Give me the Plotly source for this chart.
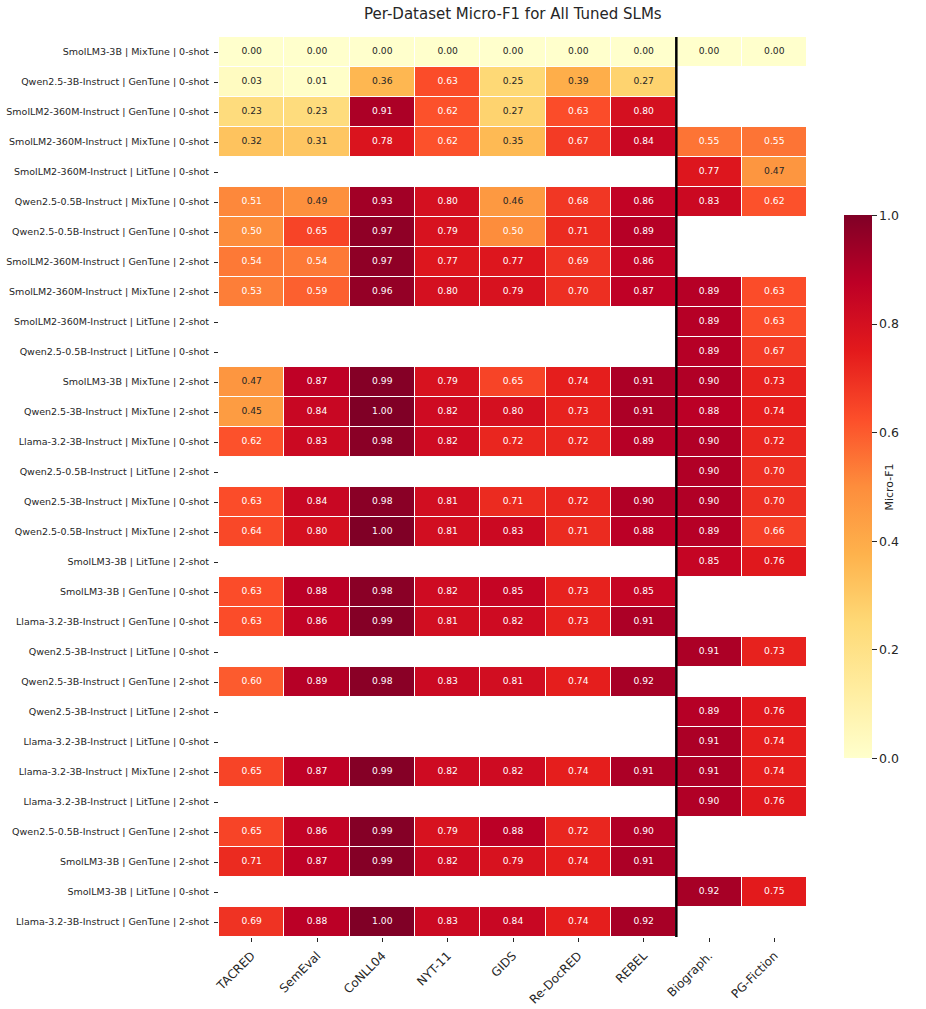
import plotly.graph_objects as go

rows = [
    "SmolLM3-3B | MixTune | 0-shot",
    "Qwen2.5-3B-Instruct | GenTune | 0-shot",
    "SmolLM2-360M-Instruct | GenTune | 0-shot",
    "SmolLM2-360M-Instruct | MixTune | 0-shot",
    "SmolLM2-360M-Instruct | LitTune | 0-shot",
    "Qwen2.5-0.5B-Instruct | MixTune | 0-shot",
    "Qwen2.5-0.5B-Instruct | GenTune | 0-shot",
    "SmolLM2-360M-Instruct | GenTune | 2-shot",
    "SmolLM2-360M-Instruct | MixTune | 2-shot",
    "SmolLM2-360M-Instruct | LitTune | 2-shot",
    "Qwen2.5-0.5B-Instruct | LitTune | 0-shot",
    "SmolLM3-3B | MixTune | 2-shot",
    "Qwen2.5-3B-Instruct | MixTune | 2-shot",
    "Llama-3.2-3B-Instruct | MixTune | 0-shot",
    "Qwen2.5-0.5B-Instruct | LitTune | 2-shot",
    "Qwen2.5-3B-Instruct | MixTune | 0-shot",
    "Qwen2.5-0.5B-Instruct | MixTune | 2-shot",
    "SmolLM3-3B | LitTune | 2-shot",
    "SmolLM3-3B | GenTune | 0-shot",
    "Llama-3.2-3B-Instruct | GenTune | 0-shot",
    "Qwen2.5-3B-Instruct | LitTune | 0-shot",
    "Qwen2.5-3B-Instruct | GenTune | 2-shot",
    "Qwen2.5-3B-Instruct | LitTune | 2-shot",
    "Llama-3.2-3B-Instruct | LitTune | 0-shot",
    "Llama-3.2-3B-Instruct | MixTune | 2-shot",
    "Llama-3.2-3B-Instruct | LitTune | 2-shot",
    "Qwen2.5-0.5B-Instruct | GenTune | 2-shot",
    "SmolLM3-3B | GenTune | 2-shot",
    "SmolLM3-3B | LitTune | 0-shot",
    "Llama-3.2-3B-Instruct | GenTune | 2-shot",
]

datasets = ["TACRED", "SemEval", "CoNLL04", "NYT-11", "GIDS", "Re-DocRED", "REBEL", "Biograph.", "PG-Fiction"]

N = None
tacred =    [0.00, 0.03, 0.23, 0.32, N, 0.51, 0.50, 0.54, 0.53, N, N, 0.47, 0.45, 0.62, N, 0.63, 0.64, N, 0.63, 0.63, N, 0.60, N, N, 0.65, N, 0.65, 0.71, N, 0.69]
semeval =   [0.00, 0.01, 0.23, 0.31, N, 0.49, 0.65, 0.54, 0.59, N, N, 0.87, 0.84, 0.83, N, 0.84, 0.80, N, 0.88, 0.86, N, 0.89, N, N, 0.87, N, 0.86, 0.87, N, 0.88]
conll04 =   [0.00, 0.36, 0.91, 0.78, N, 0.93, 0.97, 0.97, 0.96, N, N, 0.99, 1.00, 0.98, N, 0.98, 1.00, N, 0.98, 0.99, N, 0.98, N, N, 0.99, N, 0.99, 0.99, N, 1.00]
nyt11 =     [0.00, 0.63, 0.62, 0.62, N, 0.80, 0.79, 0.77, 0.80, N, N, 0.79, 0.82, 0.82, N, 0.81, 0.81, N, 0.82, 0.81, N, 0.83, N, N, 0.82, N, 0.79, 0.82, N, 0.83]
gids =      [0.00, 0.25, 0.27, 0.35, N, 0.46, 0.50, 0.77, 0.79, N, N, 0.65, 0.80, 0.72, N, 0.71, 0.83, N, 0.85, 0.82, N, 0.81, N, N, 0.82, N, 0.88, 0.79, N, 0.84]
redocred =  [0.00, 0.39, 0.63, 0.67, N, 0.68, 0.71, 0.69, 0.70, N, N, 0.74, 0.73, 0.72, N, 0.72, 0.71, N, 0.73, 0.73, N, 0.74, N, N, 0.74, N, 0.72, 0.74, N, 0.74]
rebel =     [0.00, 0.27, 0.80, 0.84, N, 0.86, 0.89, 0.86, 0.87, N, N, 0.91, 0.91, 0.89, N, 0.90, 0.88, N, 0.85, 0.91, N, 0.92, N, N, 0.91, N, 0.90, 0.91, N, 0.92]
biograph =  [0.00, N, N, 0.55, 0.77, 0.83, N, N, 0.89, 0.89, 0.89, 0.90, 0.88, 0.90, 0.90, 0.90, 0.89, 0.85, N, N, 0.91, N, 0.89, 0.91, 0.91, 0.90, N, N, 0.92, N]
pgfiction = [0.00, N, N, 0.55, 0.47, 0.62, N, N, 0.63, 0.63, 0.67, 0.73, 0.74, 0.72, 0.70, 0.70, 0.66, 0.76, N, N, 0.73, N, 0.76, 0.74, 0.74, 0.76, N, N, 0.75, N]

columns = [tacred, semeval, conll04, nyt11, gids, redocred, rebel, biograph, pgfiction]
z = [[col[i] for col in columns] for i in range(len(rows))]

ylorrd = [
    [0.0, "#ffffcc"], [0.125, "#ffeda0"], [0.25, "#fed976"], [0.375, "#feb24c"],
    [0.5, "#fd8d3c"], [0.625, "#fc4e2a"], [0.75, "#e31a1c"], [0.875, "#bd0026"],
    [1.0, "#800026"],
]

FONT = "DejaVu Sans"

fig = go.Figure()
fig.add_trace(go.Heatmap(
    z=z, x=datasets, y=rows,
    colorscale=ylorrd, zmin=0, zmax=1,
    xgap=1, ygap=1, hoverongaps=False,
    colorbar=dict(
        x=1.063, xanchor="left", xref="paper", xpad=0,
        y=0.5, yanchor="middle", len=0.603, lenmode="fraction", ypad=0,
        thickness=28, outlinewidth=0,
        tickvals=[0, 0.2, 0.4, 0.6, 0.8, 1.0], tickformat=".1f",
        ticks="outside", ticklen=5, tickwidth=1, tickcolor="#262626",
        tickfont=dict(family=FONT, size=12.5, color="#262626"),
        title=dict(text="Micro-F1", side="right", font=dict(family=FONT, size=11, color="#262626")),
    ),
))

tx, ty, tt, tc = [], [], [], []
for i, r in enumerate(rows):
    for j, d in enumerate(datasets):
        v = z[i][j]
        if v is None:
            continue
        tx.append(d)
        ty.append(r)
        tt.append(f"{v:.2f}")
        tc.append("#262626" if v < 0.5 else "#ffffff")

fig.add_trace(go.Scatter(
    x=tx, y=ty, text=tt, mode="text",
    textfont=dict(family=FONT, size=9.2, color=tc),
    hoverinfo="skip", showlegend=False,
))

fig.add_shape(type="line", xref="x", yref="paper", x0=6.5, x1=6.5, y0=0, y1=1,
              line=dict(color="black", width=2.5))

fig.add_annotation(
    text="Per-Dataset Micro-F1 for All Tuned SLMs",
    xref="paper", yref="paper", x=0.5, y=1 + (37 - 14) / 900,
    xanchor="center", yanchor="middle", showarrow=False,
    font=dict(family=FONT, size=15, color="#262626"),
)

fig.update_layout(
    width=926, height=1009,
    margin=dict(l=219, r=119, t=37, b=72, pad=0, autoexpand=False),
    plot_bgcolor="white", paper_bgcolor="white",
    font=dict(family=FONT, color="#262626"),
    showlegend=False,
    xaxis=dict(
        type="category", range=[-0.5, len(datasets) - 0.5], autorange=False,
        showgrid=False, zeroline=False, automargin=False,
        ticks="outside", ticklen=4, tickcolor="#262626", tickangle=-45,
        ticklabelstandoff=2,
        tickfont=dict(family=FONT, size=12, color="#262626"),
    ),
    yaxis=dict(
        type="category", range=[len(rows) - 0.5, -0.5], autorange=False,
        showgrid=False, zeroline=False, automargin=False,
        ticks="outside", ticklen=4, tickcolor="#262626",
        ticklabelstandoff=3,
        tickfont=dict(family=FONT, size=9.5, color="#262626"),
    ),
)

fig.write_html("out.html")
